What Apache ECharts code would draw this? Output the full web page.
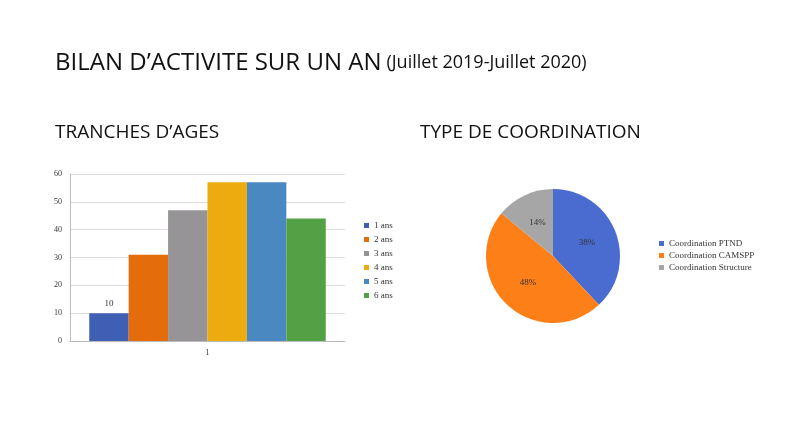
<!DOCTYPE html>
<html><head><meta charset="utf-8">
<script src="https://cdn.jsdelivr.net/npm/echarts@6/dist/echarts.min.js"></script>
<style>html,body{margin:0;background:#fff}#c{width:796px;height:443px}</style>
</head><body><div id="c"></div>
<script>
const categories = ['1'];
const ageNames = ['1 ans','2 ans','3 ans','4 ans','5 ans','6 ans'];
const ageValues = [10,31,47,57,57,44];
const ageColors = ['#3f5fb5','#e46c0a','#979498','#eeab10','#4a88c2','#52a245'];
const coordNames = ['Coordination PTND','Coordination CAMSPP','Coordination Structure'];
const coordValues = [38,48,14];
const coordColors = ['#4a6bd0','#fd7f18','#a6a6a6'];
const yTicks = [0,10,20,30,40,50,60];

const serif = 'Liberation Serif';
const chart = echarts.init(document.getElementById('c'));
chart.setOption({
  animation:false,
  title:[
    {text:'{a|BILAN D\u2019ACTIVITE SUR UN AN} {b|(Juillet 2019-Juillet 2020)}', left:50, top:46,
     textStyle:{fontWeight:'normal',rich:{a:{fontFamily:'Open Sans',fontSize:24,fontWeight:'normal',color:'#111'},b:{fontFamily:'Open Sans',fontSize:18,fontWeight:'normal',color:'#111'}}}},
    {text:'TRANCHES D\u2019AGES', left:50, top:118, textStyle:{fontFamily:'Open Sans',fontSize:19,fontWeight:'normal',color:'#111'}},
    {text:'TYPE DE COORDINATION', left:415, top:118, textStyle:{fontFamily:'Open Sans',fontSize:19,fontWeight:'normal',color:'#111'}}
  ],
  legend:[
    {data:ageNames, orient:'vertical', left:359, top:216, itemWidth:5, itemHeight:5, itemGap:5, icon:'rect',
     textStyle:{fontFamily:serif,fontSize:9,color:'#333'}},
    {data:coordNames, orient:'vertical', left:654, top:234, itemWidth:5, itemHeight:5, itemGap:3, icon:'rect',
     textStyle:{fontFamily:serif,fontSize:9,color:'#333'}}
  ],
  grid:{left:70,top:174,width:275,height:167},
  xAxis:{type:'category',data:categories,axisTick:{show:false},
    axisLine:{lineStyle:{color:'#bbb'}},axisLabel:{fontFamily:serif,fontSize:8,color:'#333'}},
  yAxis:{type:'value',min:0,max:60,interval:10,
    axisLine:{show:true,lineStyle:{color:'#bbb'}},splitLine:{lineStyle:{color:'#ddd'}},
    axisLabel:{fontFamily:serif,fontSize:8,color:'#333',formatter:v=>yTicks.includes(v)?String(v):''}},
  series:[
    ...ageNames.map((n,i)=>({name:n,type:'bar',data:[ageValues[i]],barGap:'0%',barCategoryGap:'14%',
      itemStyle:{color:ageColors[i]},
      label:{show:i===0,position:'top',fontFamily:serif,fontSize:9,color:'#333'}})),
    {type:'pie',center:[553,256],radius:67,startAngle:90,clockwise:true,
      data:coordNames.map((n,i)=>({name:n,value:coordValues[i],itemStyle:{color:coordColors[i]}})),
      label:{position:'inside',formatter:'{d}%',fontFamily:serif,fontSize:9,color:'#333'},
      labelLine:{show:false}}
  ]
});
</script></body></html>
